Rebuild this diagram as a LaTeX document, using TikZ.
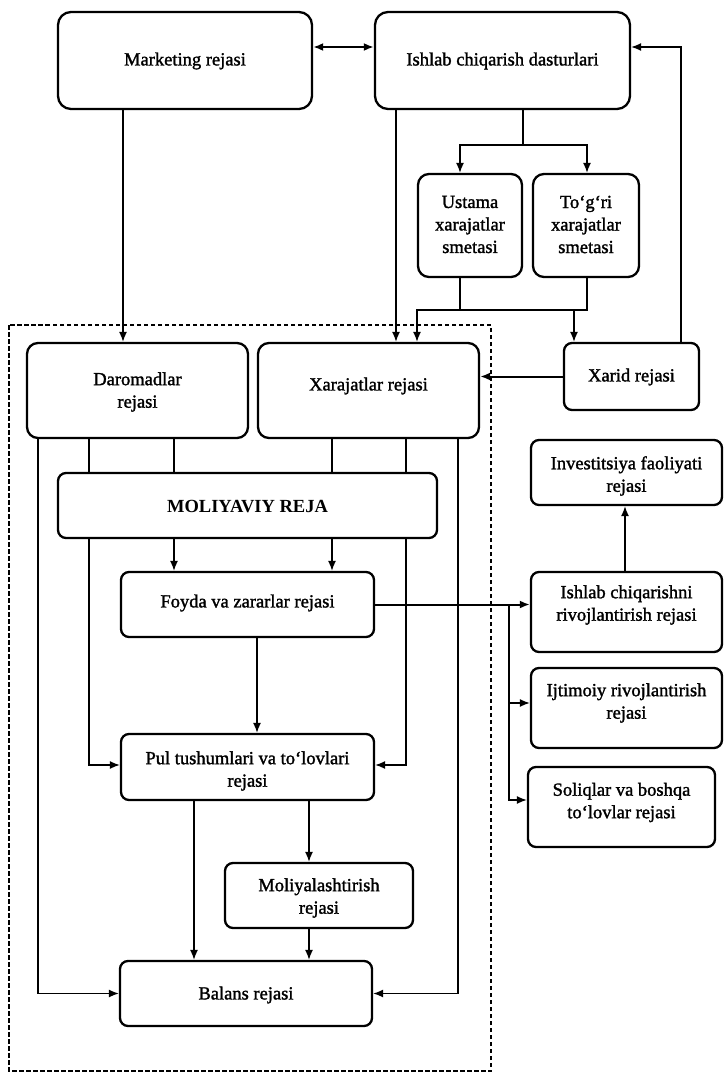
\documentclass[tikz,border=0pt]{standalone}
\usepackage{fontspec}
\setmainfont{Liberation Serif}
\newfontfamily\planfont{Liberation Serif}[FakeBold=1.5]
\usetikzlibrary{arrows.meta}
\begin{document}
\begin{tikzpicture}[x=1pt,y=-1pt,
  box/.style={draw, line width=2.3pt, rounded corners=8pt, inner sep=0pt},
  bigbox/.style={box, rounded corners=13pt},
  txt/.style={align=center, inner sep=0pt, font=\planfont\fontsize{18.5}{22.5}\selectfont},
  conn/.style={line width=1.4pt},
  arr/.style={conn, -{Latex[length=10pt,width=8pt]}},
  thickarr/.style={arr, line width=2pt},
  frame/.style={line width=1.8pt, dash pattern=on 4.5pt off 2.5pt}]
\useasboundingbox (0,0) rectangle (725,1073);

% planning frame around the financial plan block
\draw[frame] (9,325) rectangle (491,1071);

% boxes
\node[bigbox, minimum width=254pt, minimum height=97pt] (mark) at (185,60.5) {};
\node[bigbox, minimum width=255pt, minimum height=97pt] (ishlab) at (502.5,60.5) {};
\node[bigbox, rounded corners=11pt, minimum width=104pt, minimum height=103pt] (ustama) at (470,225.5) {};
\node[bigbox, rounded corners=11pt, minimum width=106pt, minimum height=103pt] (togri) at (586,225.5) {};
\node[bigbox, rounded corners=11pt, minimum width=221pt, minimum height=95pt] (daromad) at (137.5,390.5) {};
\node[bigbox, rounded corners=11pt, minimum width=221pt, minimum height=95pt] (xaraj) at (368.5,390.5) {};
\node[box, minimum width=135pt, minimum height=67pt] (xarid) at (631.5,376.5) {};
\node[box, minimum width=191pt, minimum height=65pt] (invest) at (626.5,472.5) {};
\node[box, minimum width=379pt, minimum height=65pt] (moliy) at (247.5,505.5) {};
\node[box, minimum width=253pt, minimum height=65pt] (foyda) at (247.5,604.5) {};
\node[box, minimum width=191pt, minimum height=80pt] (ishrivoj) at (626.5,612) {};
\node[box, minimum width=191pt, minimum height=80pt] (ijtimoiy) at (626.5,708) {};
\node[box, minimum width=187pt, minimum height=80pt] (soliq) at (621.5,807) {};
\node[box, minimum width=253pt, minimum height=66pt] (pul) at (247.5,767) {};
\node[box, minimum width=188pt, minimum height=65pt] (moliyal) at (319,895.5) {};
\node[box, minimum width=252pt, minimum height=65pt] (balans) at (246,993.5) {};

% texts
\node[txt] (markT) at (185,61) {Marketing rejasi};
\node[txt] (ishlabT) at (502.5,61) {Ishlab chiqarish dasturlari};
\node[txt] (ustamaT) at (470,224.5) {Ustama\\xarajatlar\\smetasi};
\node[txt] (togriT) at (586,224.5) {To‘g‘ri\\xarajatlar\\smetasi};
\node[txt] (daromadT) at (137.5,392) {Daromadlar\\rejasi};
\node[txt] (xarajT) at (368.5,386) {Xarajatlar rejasi};
\node[txt] (xaridT) at (631.5,377) {Xarid rejasi};
\node[txt] (investT) at (626.5,476) {Investitsiya faoliyati\\rejasi};
\node[txt, font=\fontsize{18.5}{22.5}\selectfont\bfseries] (moliyT) at (247.5,507) {MOLIYAVIY REJA};
\node[txt] (foydaT) at (247.5,603) {Foyda va zararlar rejasi};
\node[txt] (ishrivojT) at (626.5,605) {Ishlab chiqarishni\\rivojlantirish rejasi};
\node[txt] (ijtimoiyT) at (626.5,703) {Ijtimoiy rivojlantirish\\rejasi};
\node[txt] (soliqT) at (621.5,802.5) {Soliqlar va boshqa\\to‘lovlar rejasi};
\node[txt] (pulT) at (247.5,771) {Pul tushumlari va to‘lovlari\\rejasi};
\node[txt] (moliyalT) at (319,898) {Moliyalashtirish\\rejasi};
\node[txt] (balansT) at (246,995) {Balans rejasi};

% connector columns and rows
\coordinate (c38) at (38,0);   \coordinate (c89) at (89,0);
\coordinate (c123) at (123,0); \coordinate (c174) at (174,0);
\coordinate (c194) at (194,0); \coordinate (c257) at (257,0);
\coordinate (c309) at (309,0); \coordinate (c332) at (332,0);
\coordinate (c396) at (396,0); \coordinate (c406) at (406,0);
\coordinate (c417) at (417,0); \coordinate (c458) at (458,0);
\coordinate (c460) at (460,0); \coordinate (c509) at (509,0);
\coordinate (c523) at (523,0); \coordinate (c574) at (574,0);
\coordinate (c587) at (587,0); \coordinate (c625) at (625,0);
\coordinate (c681) at (681,0);
\coordinate (yTop) at (0,47);
\coordinate (ySplit) at (0,145);
\coordinate (yMerge) at (0,310);

% top row
\draw[conn, line width=2pt, {Latex[length=10pt,width=8pt]}-{Latex[length=10pt,width=8pt]}]
  (mark.east |- yTop) -- (ishlab.west |- yTop);
\draw[arr] (xarid.north -| c681) |- (ishlab.east |- yTop);
\draw[arr] (mark.south -| c123) -- (daromad.north -| c123);
\draw[arr] (ishlab.south -| c396) -- (xaraj.north -| c396);

% cost estimates
\draw[conn] (ishlab.south -| c523) -- (c523 |- ySplit);
\draw[arr] (c523 |- ySplit) -| (ustama.north -| c460);
\draw[arr] (c523 |- ySplit) -| (togri.north -| c587);
\draw[conn] (ustama.south -| c460) -- (c460 |- yMerge);
\draw[arr] (togri.south -| c587) |- (c417 |- yMerge) -- (xaraj.north -| c417);
\draw[arr] (c574 |- yMerge) -- (xarid.north -| c574);
\draw[thickarr] (xarid.west) -- (xarid.west -| xaraj.east);

% into the financial plan
\draw[conn] (daromad.south -| c89) -- (moliy.north -| c89);
\draw[conn] (daromad.south -| c174) -- (moliy.north -| c174);
\draw[conn] (xaraj.south -| c332) -- (moliy.north -| c332);
\draw[conn] (xaraj.south -| c406) -- (moliy.north -| c406);
\draw[arr] (daromad.south -| c38) |- (balans.west);
\draw[arr] (xaraj.south -| c458) |- (balans.east);

% out of the financial plan
\draw[arr] (moliy.south -| c174) -- (foyda.north -| c174);
\draw[arr] (moliy.south -| c332) -- (foyda.north -| c332);
\draw[arr] (moliy.south -| c89) |- ([yshift=2pt]pul.west);
\draw[arr] (moliy.south -| c406) |- ([yshift=2pt]pul.east);

% profit plan to the development plans
\draw[thickarr] (foyda.east) -- (foyda.east -| ishrivoj.west);
\draw[arr] (foyda.east -| c509) |- ([yshift=5pt]ijtimoiy.west);
\draw[arr] (foyda.east -| c509) |- ([yshift=7pt]soliq.west);
\draw[arr] (ishrivoj.north -| c625) -- (invest.south -| c625);

% lower chain
\draw[arr] (foyda.south -| c257) -- (pul.north -| c257);
\draw[arr] (pul.south -| c194) -- (balans.north -| c194);
\draw[arr] (pul.south -| c309) -- (moliyal.north -| c309);
\draw[arr] (moliyal.south -| c309) -- (balans.north -| c309);
\end{tikzpicture}
\end{document}
